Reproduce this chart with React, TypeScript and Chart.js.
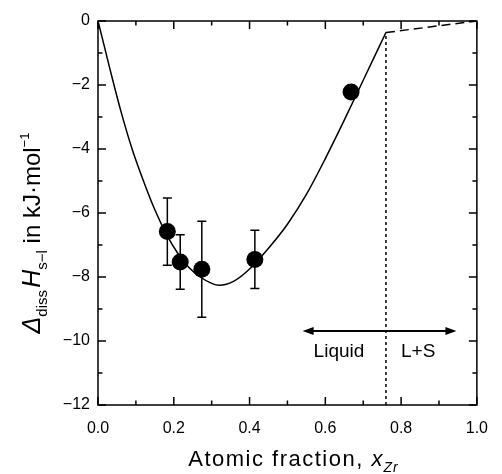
import React, { useEffect, useRef } from "react";
import { Chart, registerables } from "chart.js";

Chart.register(...registerables);

// ---- data ----
const curveX = [0, 0.02, 0.04, 0.06, 0.09, 0.12, 0.15, 0.18, 0.21, 0.24, 0.27, 0.3, 0.32, 0.36, 0.4, 0.45, 0.5, 0.55, 0.6, 0.65, 0.7, 0.76];
const curveY = [0, -0.95, -1.9, -2.8, -4.0, -5.0, -5.9, -6.65, -7.25, -7.7, -8.0, -8.2, -8.26, -8.12, -7.75, -7.1, -6.35, -5.42, -4.3, -3.1, -1.85, -0.36];

const pointX = [0.183, 0.217, 0.274, 0.414, 0.668];
const pointY = [-6.58, -7.53, -7.76, -7.45, -2.22];
const pointErr = [1.05, 0.85, 1.5, 0.91, 0];

const boundaryX = [0.76, 0.76];
const boundaryY = [-12, -0.36];

const extensionX = [0.76, 1.0];
const extensionY = [-0.36, 0];

const arrowX = [0.54, 0.946];
const arrowY = [-9.69, -9.69];

const regionLabels = ["Liquid", "L+S"];
const regionLabelX = [0.636, 0.845];
const regionLabelY = [-10.34, -10.34];

const xMajorTicks = [0, 0.2, 0.4, 0.6, 0.8, 1.0];
const xMinorTicks = [0.1, 0.3, 0.5, 0.7, 0.9];
const yMajorTicks = [0, -2, -4, -6, -8, -10, -12];
const yMinorTicks = [-1, -3, -5, -7, -9, -11];

const FONT = '"Liberation Sans", Arial, sans-serif';

const toXY = (xs: number[], ys: number[]) => xs.map((x, i) => ({ x, y: ys[i] }));

const decorPlugin = {
  id: "decor",
  afterDatasetsDraw(chart: any) {
    const ctx = chart.ctx;
    const xs = chart.scales.x;
    const ys = chart.scales.y;
    const { left, right, top, bottom } = chart.chartArea;
    ctx.save();
    ctx.strokeStyle = "#000";
    ctx.fillStyle = "#000";

    // error bars
    ctx.lineWidth = 1.5;
    pointX.forEach((x, i) => {
      const e = pointErr[i];
      if (!e) return;
      const px = xs.getPixelForValue(x);
      const y1 = ys.getPixelForValue(pointY[i] + e);
      const y2 = ys.getPixelForValue(pointY[i] - e);
      ctx.beginPath();
      ctx.moveTo(px, y1);
      ctx.lineTo(px, y2);
      ctx.moveTo(px - 4.5, y1);
      ctx.lineTo(px + 4.5, y1);
      ctx.moveTo(px - 4.5, y2);
      ctx.lineTo(px + 4.5, y2);
      ctx.stroke();
    });

    // double arrow
    const ax1 = xs.getPixelForValue(arrowX[0]);
    const ax2 = xs.getPixelForValue(arrowX[1]);
    const ay = ys.getPixelForValue(arrowY[0]);
    const hl = 11;
    const hw = 4;
    ctx.lineWidth = 2;
    ctx.beginPath();
    ctx.moveTo(ax1 + hl - 1, ay);
    ctx.lineTo(ax2 - hl + 1, ay);
    ctx.stroke();
    ctx.beginPath();
    ctx.moveTo(ax1, ay);
    ctx.lineTo(ax1 + hl, ay - hw);
    ctx.lineTo(ax1 + hl, ay + hw);
    ctx.closePath();
    ctx.fill();
    ctx.beginPath();
    ctx.moveTo(ax2, ay);
    ctx.lineTo(ax2 - hl, ay - hw);
    ctx.lineTo(ax2 - hl, ay + hw);
    ctx.closePath();
    ctx.fill();

    // region labels
    ctx.font = `19px ${FONT}`;
    ctx.textAlign = "center";
    ctx.textBaseline = "middle";
    regionLabels.forEach((t, i) => {
      ctx.fillText(t, xs.getPixelForValue(regionLabelX[i]), ys.getPixelForValue(regionLabelY[i]));
    });

    // frame
    ctx.lineWidth = 1.5;
    ctx.strokeRect(left, top, right - left, bottom - top);

    // inward ticks
    const drawX = (vals: number[], len: number) => {
      vals.forEach((v) => {
        const p = xs.getPixelForValue(v);
        ctx.beginPath();
        ctx.moveTo(p, bottom);
        ctx.lineTo(p, bottom - len);
        ctx.moveTo(p, top);
        ctx.lineTo(p, top + len);
        ctx.stroke();
      });
    };
    const drawY = (vals: number[], len: number) => {
      vals.forEach((v) => {
        const p = ys.getPixelForValue(v);
        ctx.beginPath();
        ctx.moveTo(left, p);
        ctx.lineTo(left + len, p);
        ctx.moveTo(right, p);
        ctx.lineTo(right - len, p);
        ctx.stroke();
      });
    };
    drawX(xMajorTicks, 8);
    drawX(xMinorTicks, 4.5);
    drawY(yMajorTicks, 8);
    drawY(yMinorTicks, 4.5);
    ctx.restore();
  },
  afterDraw(chart: any) {
    const ctx = chart.ctx;
    const { left, right, top, bottom } = chart.chartArea;
    ctx.save();
    ctx.fillStyle = "#000";
    ctx.textBaseline = "alphabetic";
    ctx.textAlign = "left";

    // x-axis title
    const xParts = [
      { t: "Atomic fraction, ", f: `22px ${FONT}`, dy: 0, ls: "1.5px" },
      { t: "x", f: `italic 22px ${FONT}`, dy: 0, ls: "1px" },
      { t: "Zr", f: `italic 14px ${FONT}`, dy: 6, ls: "1px" },
    ];
    let w = 0;
    xParts.forEach((p) => {
      ctx.font = p.f;
      (ctx as any).letterSpacing = p.ls;
      w += ctx.measureText(p.t).width;
    });
    let cx = (left + right) / 2 + 6 - w / 2;
    const by = bottom + 61;
    xParts.forEach((p) => {
      ctx.font = p.f;
      (ctx as any).letterSpacing = p.ls;
      ctx.fillText(p.t, cx, by + p.dy);
      cx += ctx.measureText(p.t).width;
    });
    (ctx as any).letterSpacing = "0px";

    // y-axis title (rotated)
    const yParts = [
      { t: "\u0394", f: `italic 25px ${FONT}`, dy: 0 },
      { t: "diss", f: `15px ${FONT}`, dy: 7 },
      { t: " ", f: `8px ${FONT}`, dy: 0 },
      { t: "H", f: `italic 25px ${FONT}`, dy: 0 },
      { t: "s\u2212l", f: `15px ${FONT}`, dy: 7 },
      { t: " in kJ\u00b7mol", f: `24px ${FONT}`, dy: 0 },
      { t: "\u22121", f: `13px ${FONT}`, dy: -11 },
    ];
    let h = 0;
    yParts.forEach((p) => {
      ctx.font = p.f;
      h += ctx.measureText(p.t).width;
    });
    const centerY = (top + bottom) / 2 + 20;
    ctx.translate(40, centerY);
    ctx.rotate(-Math.PI / 2);
    let tx = -h / 2;
    yParts.forEach((p) => {
      ctx.font = p.f;
      ctx.fillText(p.t, tx, p.dy);
      tx += ctx.measureText(p.t).width;
    });
    ctx.restore();
  },
};

export default function App() {
  const ref = useRef<HTMLCanvasElement | null>(null);
  useEffect(() => {
    if (!ref.current) return;
    const chart = new Chart(ref.current, {
      type: "line",
      data: {
        datasets: [
          {
            label: "fit",
            data: toXY(curveX, curveY),
            borderColor: "#000",
            borderWidth: 1.5,
            pointRadius: 0,
            cubicInterpolationMode: "monotone",
            fill: false,
          },
          {
            label: "boundary",
            data: toXY(boundaryX, boundaryY),
            borderColor: "#000",
            borderWidth: 1.5,
            borderDash: [3, 3],
            pointRadius: 0,
            fill: false,
          },
          {
            label: "extension",
            data: toXY(extensionX, extensionY),
            borderColor: "#000",
            borderWidth: 1.5,
            borderDash: [9, 5],
            pointRadius: 0,
            fill: false,
          },
          {
            label: "measured",
            data: toXY(pointX, pointY),
            showLine: false,
            pointRadius: 8.5,
            pointBackgroundColor: "#000",
            pointBorderColor: "#000",
            pointBorderWidth: 0,
          },
        ],
      },
      options: {
        animation: false,
        responsive: false,
        maintainAspectRatio: false,
        events: [],
        layout: { padding: { left: 0, right: 19, top: 21, bottom: 0 } },
        plugins: {
          legend: { display: false },
          tooltip: { enabled: false },
          title: { display: false },
        },
        scales: {
          x: {
            type: "linear",
            min: 0,
            max: 1,
            grid: { display: false, drawTicks: false },
            border: { display: false },
            afterBuildTicks: (s: any) => {
              s.ticks = xMajorTicks.map((v) => ({ value: v }));
            },
            afterFit: (s: any) => {
              s.height = 69;
            },
            ticks: {
              color: "#000",
              padding: 14,
              font: { family: FONT, size: 16 },
              maxRotation: 0,
              callback: (v: any) => Number(v).toFixed(1),
            },
          },
          y: {
            type: "linear",
            min: -12,
            max: 0,
            grid: { display: false, drawTicks: false },
            border: { display: false },
            afterBuildTicks: (s: any) => {
              s.ticks = yMajorTicks.map((v) => ({ value: v }));
            },
            afterFit: (s: any) => {
              s.width = 98;
            },
            ticks: {
              color: "#000",
              padding: 8,
              font: { family: FONT, size: 16 },
              callback: (v: any) => (Number(v) < 0 ? "\u2212" + Math.abs(Number(v)) : String(v)),
            },
          },
        },
      },
      plugins: [decorPlugin],
    } as any);
    return () => chart.destroy();
  }, []);

  return (
    <div style={{ position: "fixed", left: 0, top: 0, width: 502, height: 474, background: "#fff" }}>
      <canvas ref={ref} width={502} height={474} style={{ width: 502, height: 474 }} />
    </div>
  );
}
